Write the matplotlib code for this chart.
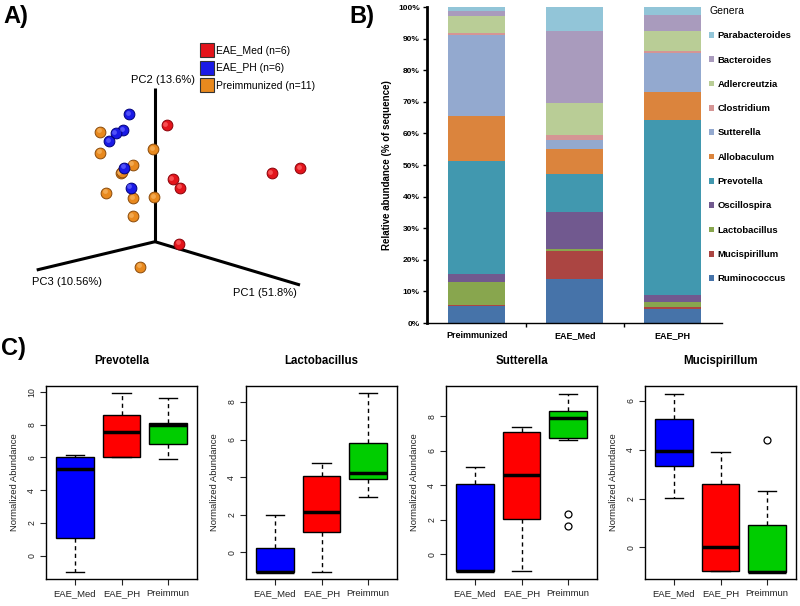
import numpy as np
import matplotlib
matplotlib.use('Agg')
import matplotlib.pyplot as plt
from matplotlib.lines import Line2D
from matplotlib.transforms import offset_copy

plt.rcParams['font.family'] = ['Liberation Sans', 'DejaVu Sans']

W, H = 800, 606

# ---------------- A) PCoA (projected 3D coordinates) ----------------
pc_labels = ['PC1 (51.8%)', 'PC2 (13.6%)', 'PC3 (10.56%)']
pc1_end = (1.45, -0.433)
pc2_end = (0.0, 1.537)
pc3_end = (-1.183, -0.283)

med_x = [0.117, 0.177, 0.25, 0.24, 1.167, 1.45]
med_y = [1.167, 0.627, 0.54, -0.02, 0.684, 0.734]
ph_x = [-0.257, -0.317, -0.393, -0.457, -0.31, -0.243]
ph_y = [1.277, 1.117, 1.084, 1.007, 0.74, 0.54]
pre_x = [-0.55, -0.55, -0.017, -0.223, -0.343, -0.49, -0.217, -0.01, -0.223, -0.15, -0.33]
pre_y = [1.10, 0.89, 0.924, 0.77, 0.687, 0.49, 0.434, 0.447, 0.257, -0.25, 0.70]

group_names = ['EAE_Med (n=6)', 'EAE_PH (n=6)', 'Preimmunized (n=11)']
group_colors = ['#e3141b', '#1a1ae6', '#e8891e']
group_dark = ['#8a0008', '#00007a', '#8a4a0a']
group_light = ['#ff6a6a', '#6a6aff', '#f7b766']

# ---------------- B) relative abundance ----------------
samples = ['Preimmunized', 'EAE_Med', 'EAE_PH']
genera = ['Ruminococcus', 'Mucispirillum', 'Lactobacillus', 'Oscillospira', 'Prevotella',
          'Allobaculum', 'Sutterella', 'Clostridium', 'Adlercreutzia', 'Bacteroides',
          'Parabacteroides']
genus_colors = ['#4673a9', '#ab4542', '#88a64e', '#71598f', '#4198af', '#db843d',
                '#93a9cf', '#d59594', '#b9cd96', '#a99bbd', '#92c5d8']
# percentage per genus, order: Preimmunized, EAE_Med, EAE_PH
abund = {
    'Ruminococcus':    [5.4, 13.8, 4.3],
    'Mucispirillum':   [0.4, 9.1, 0.7],
    'Lactobacillus':   [7.3, 0.4, 1.8],
    'Oscillospira':    [2.5, 11.7, 2.1],
    'Prevotella':      [35.6, 12.0, 55.3],
    'Allobaculum':     [14.3, 8.2, 8.9],
    'Sutterella':      [25.6, 2.8, 12.2],
    'Clostridium':     [0.6, 1.4, 0.8],
    'Adlercreutzia':   [5.6, 10.3, 6.2],
    'Bacteroides':     [1.4, 22.8, 5.3],
    'Parabacteroides': [1.3, 7.5, 2.4],
}

# ---------------- C) boxplots ----------------
box_groups = ['EAE_Med', 'EAE_PH', 'Preimmun']
box_colors = ['#0000ff', '#ff0000', '#00cd00']
box_titles = ['Prevotella', 'Lactobacillus', 'Sutterella', 'Mucispirillum']
# per genus: [EAE_Med, EAE_PH, Preimmun]
whislo = [[-1.0, 6.0, 5.88], [-1.07, -1.03, 2.97], [-1.0, -1.0, 6.63], [2.01, -0.98, -1.0]]
q1 = [[1.08, 6.0, 6.84], [-1.07, 1.07, 3.88], [-1.0, 2.02, 6.77], [3.32, -0.98, -1.0]]
med = [[5.27, 7.55, 7.96], [-1.07, 2.17, 4.23], [-1.0, 4.62, 7.92], [3.95, 0.03, -1.0]]
q3 = [[6.02, 8.57, 8.08], [0.23, 4.05, 5.83], [4.08, 7.08, 8.33], [5.27, 2.59, 0.93]]
whishi = [[6.18, 9.96, 9.63], [2.01, 4.75, 8.5], [5.04, 7.4, 9.31], [6.29, 3.9, 2.31]]
fliers = [[[], [], []], [[], [], []], [[], [], [2.35, 1.63]], [[], [], [4.41]]]
ylims = [(-1.43, 10.37), (-1.42, 8.85), (-1.44, 9.77), (-1.29, 6.6)]
yticks = [[0, 2, 4, 6, 8, 10], [0, 2, 4, 6, 8], [0, 2, 4, 6, 8], [0, 2, 4, 6]]


def px_axes(fig, left, top, right, bottom):
    return fig.add_axes([left / W, 1 - bottom / H, (right - left) / W, (bottom - top) / H])


fig = plt.figure(figsize=(8, 6.06), dpi=100)

# ---- panel A
axA = px_axes(fig, 0, 0, 360, 320)
axA.set_xlim(-1.55, 2.05)
axA.set_ylim(-0.783, 2.417)
axA.axis('off')
for end in [pc1_end, pc2_end, pc3_end]:
    axA.plot([0, end[0]], [0, end[1]], color='black', lw=2.2, solid_capstyle='butt', zorder=1)
hl = offset_copy(axA.transData, fig=fig, x=-1.0, y=1.0, units='points')
for k, (xs, ys) in enumerate([(pre_x, pre_y), (ph_x, ph_y), (med_x, med_y)]):
    ci = [2, 1, 0][k]
    axA.scatter(xs, ys, s=60, color=group_colors[ci], edgecolors=group_dark[ci],
                linewidths=0.7, zorder=3 + k)
    # small highlight to give the spheres some shading
    axA.scatter(xs, ys, s=12, color=group_light[ci], linewidths=0, alpha=0.7,
                transform=hl, zorder=3 + k)
axA.text(0.08, 1.617, pc_labels[1], ha='center', va='center', fontsize=8)
axA.text(-0.88, -0.403, pc_labels[2], ha='center', va='center', fontsize=8)
axA.text(1.10, -0.513, pc_labels[0], ha='center', va='center', fontsize=8)
handlesA = [Line2D([], [], ls='none', marker='s', markersize=9.5, markerfacecolor=c,
                   markeredgecolor='#333333', markeredgewidth=0.8) for c in group_colors]
axA.legend(handlesA, group_names, loc='upper left', bbox_to_anchor=(203 / 360, 1 - 46 / 320),
           frameon=False, fontsize=7.5, handlelength=0.8, handletextpad=0.4,
           labelspacing=0.7, borderaxespad=0, borderpad=0)

# ---- panel B
axB = px_axes(fig, 426.7, 7, 721.7, 323)
xpos = np.arange(len(samples))
bottom = np.zeros(len(samples))
for g, c in zip(genera, genus_colors):
    vals = np.array(abund[g])
    axB.bar(xpos, vals, 0.58, bottom=bottom, color=c, linewidth=0, label=g)
    bottom += vals
axB.set_xlim(-0.51, 2.5)
axB.set_ylim(0, 100)
axB.set_yticks(np.arange(0, 101, 10))
axB.set_yticklabels([f'{v}%' for v in range(0, 101, 10)], fontsize=6, fontweight='bold')
axB.set_xticks(xpos)
axB.set_xticklabels(samples, fontsize=6.5, fontweight='bold')
axB.set_xticks([0.5, 1.5], minor=True)
axB.tick_params(axis='x', which='major', length=0, pad=6)
axB.tick_params(axis='x', which='minor', length=3, width=1, direction='out')
axB.tick_params(axis='y', length=3, width=1, direction='out', pad=2)
for s in ['top', 'right']:
    axB.spines[s].set_visible(False)
axB.spines['left'].set_linewidth(2)
axB.spines['bottom'].set_linewidth(1)
axB.set_ylabel('Relative abundance (% of sequence)', fontsize=7, fontweight='bold', labelpad=4)
hB, lB = axB.get_legend_handles_labels()
legB = fig.legend(hB[::-1], lB[::-1], loc='upper left', bbox_to_anchor=(709 / W, 1 - 6 / H),
                  frameon=False, title='Genera', fontsize=6.8, title_fontsize=7.5,
                  handlelength=0.55, handleheight=0.55, handletextpad=0.35,
                  labelspacing=1.62, alignment='left', borderaxespad=0, borderpad=0)
for t in legB.get_texts():
    t.set_fontweight('bold')

# ---- panel C
lefts = [46, 246, 446, 645]
for i in range(4):
    ax = px_axes(fig, lefts[i], 386, lefts[i] + 151, 579)
    stats = []
    for j in range(3):
        stats.append(dict(med=med[i][j], q1=q1[i][j], q3=q3[i][j], whislo=whislo[i][j],
                          whishi=whishi[i][j], fliers=fliers[i][j]))
    bp = ax.bxp(stats, positions=[1, 2, 3], widths=0.8, patch_artist=True,
                boxprops=dict(linewidth=1, edgecolor='black'),
                medianprops=dict(color='black', linewidth=2.5, solid_capstyle='butt'),
                whiskerprops=dict(color='black', linewidth=1, linestyle=(0, (3, 2.5))),
                capprops=dict(color='black', linewidth=1), capwidths=0.4,
                flierprops=dict(marker='o', markerfacecolor='none', markeredgecolor='black',
                                markersize=5, markeredgewidth=0.9))
    for patch, c in zip(bp['boxes'], box_colors):
        patch.set_facecolor(c)
    ax.set_xlim(0.38, 3.62)
    ax.set_ylim(*ylims[i])
    ax.set_xticks([1, 2, 3])
    ax.set_xticklabels(box_groups, fontsize=6.8, color='#222222')
    ax.set_yticks(yticks[i])
    ax.set_yticklabels([str(v) for v in yticks[i]], fontsize=6.3, rotation=90, va='center',
                       color='#222222')
    ax.tick_params(length=4, width=0.8, direction='out', pad=3, colors='#222222')
    for s in ax.spines.values():
        s.set_linewidth(1)
    ax.set_ylabel('Normalized Abundance', fontsize=6.8, color='#222222', labelpad=6)
    ax.set_title(box_titles[i], fontsize=8.3, fontweight='bold', pad=16)

# panel letters
fig.text(3 / W, 1 - 17 / H, 'A)', fontsize=17, fontweight='bold', va='center', ha='left')
fig.text(349 / W, 1 - 17 / H, 'B)', fontsize=17, fontweight='bold', va='center', ha='left')
fig.text(1 / W, 1 - 349 / H, 'C)', fontsize=17, fontweight='bold', va='center', ha='left')

fig.savefig('out.png', dpi=100)
